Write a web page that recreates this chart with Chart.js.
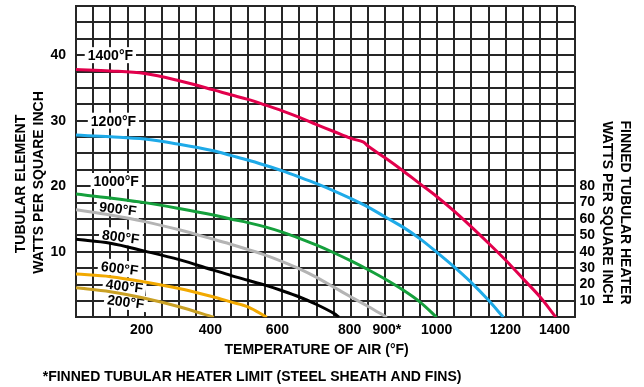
<!DOCTYPE html>
<html><head><meta charset="utf-8">
<script src="https://cdn.jsdelivr.net/npm/chart.js@4/dist/chart.umd.min.js"></script>
<style>html,body{margin:0;padding:0;background:#fff;}#wrap{width:644px;height:387px;position:relative;}</style>
</head><body><div id="wrap"><canvas id="c"></canvas></div>
<script>
// ---- data (air temperature on the grid, °F ; watts per square inch) ----
const seriesNames = ['1400°F','1200°F','1000°F','900°F','800°F','600°F','400°F'];
const t1400 = [0,100,200,300,400,450,500,550,600,650,700,750,800,835,850,900,950,1000,1050,1100,1150,1200,1250,1300,1350,1396];
const w1400 = [37.8,37.6,37.2,36.1,34.7,33.95,33.25,32.4,31.5,30.5,29.4,28.35,27.3,26.75,26.1,24.3,22.4,20.4,18.4,16.2,13.8,11.3,8.7,5.9,3.1,0];
const t1200 = [0,100,200,300,400,450,500,550,600,650,700,750,800,850,900,950,1000,1050,1100,1150,1200,1243];
const w1200 = [27.8,27.55,27.2,26.4,25.4,24.7,24.0,23.2,22.35,21.4,20.4,19.3,18.1,16.8,15.3,13.8,12.0,9.9,7.7,5.3,2.6,0];
const t1000 = [0,100,200,300,400,450,500,550,600,650,700,750,800,850,900,950,1000,1049];
const w1000 = [18.8,18.2,17.5,16.6,15.6,15.0,14.45,13.8,13.0,12.05,11.0,9.85,8.6,7.25,5.8,4.2,2.35,0];
const t900 = [0,100,200,300,400,450,500,550,600,650,700,750,800,850,904];
const w900 = [16.4,15.6,14.6,13.35,11.9,11.15,10.35,9.5,8.5,7.4,6.1,4.6,3.1,1.65,0];
const t800 = [0,100,200,300,400,450,500,550,600,650,700,750,765];
const w800 = [11.9,11.3,10.1,8.8,7.2,6.4,5.65,4.9,4.05,3.1,1.95,0.6,0];
const t600 = [0,100,200,300,400,450,500,555];
const w600 = [6.6,6.2,5.4,4.4,3.1,2.35,1.6,0];
const t400 = [0,100,200,300,401];
const w400 = [4.5,3.9,2.9,1.6,0];
const curveLabels = ['1400°F','1200°F','1000°F','900°F','800°F','600°F','400°F','200°F'];
const xTickLabels = ['200','400','600','800','900*','1000','1200','1400'];
const xTickAt = [191,391,586,796,904,1049,1249,1392];
const yTickLabels = [10,20,30,40];
const y2TickLabels = [10,20,30,40,50,60,70,80];
const xTitle = 'TEMPERATURE OF AIR (°F)';
const yTitle = ['TUBULAR ELEMENT','WATTS PER SQUARE INCH'];
const y2Title = ['FINNED TUBULAR HEATER','WATTS PER SQUARE INCH'];
const footnote = '*FINNED TUBULAR HEATER LIMIT (STEEL SHEATH AND FINS)';

// ---- styling / layout ----
const FONT = '"Liberation Sans", Arial, Helvetica, sans-serif';
const colors = ['#e2004c','#1eaae8','#15a03c','#b4b4b4','#000000','#f2a900','#c9a024'];
const seriesT = [t1400,t1200,t1000,t900,t800,t600,t400];
const seriesW = [w1400,w1200,w1000,w900,w800,w600,w400];
const labelSpots = [
  {t:100,v:40.0,rot:0},{t:109,v:30.0,rot:0},{t:117,v:20.8,rot:0},
  {t:122,v:16.6,rot:7},{t:130,v:12.3,rot:7},{t:127,v:7.5,rot:7},
  {t:141,v:4.8,rot:7},{t:145,v:2.4,rot:7}
];
const GRID = '#262626';

const datasets = seriesNames.map((n,i)=>({
  label:n,
  data: seriesT[i].map((t,j)=>({x:t,y:seriesW[i][j]})),
  borderColor: colors[i], backgroundColor: colors[i],
  borderWidth: 3, pointRadius: 0, fill:false,
  tension:0.35, yAxisID:'y', xAxisID:'x'
}));

const textPlugin = {
  id:'texts',
  beforeDatasetsDraw(chart){
    const {ctx, scales:{x,y}} = chart;
    ctx.save();
    ctx.font = 'bold 14px ' + FONT;
    ctx.textAlign = 'center';
    ctx.textBaseline = 'alphabetic';
    labelSpots.forEach((s,i)=>{
      const px = x.getPixelForValue(s.t), py = y.getPixelForValue(s.v);
      ctx.save();
      ctx.translate(px,py);
      ctx.rotate(s.rot*Math.PI/180);
      const w = ctx.measureText(curveLabels[i]).width;
      ctx.fillStyle = '#fff';
      ctx.fillRect(-w/2-3,-8,w+6,16);
      ctx.fillStyle = '#000';
      ctx.fillText(curveLabels[i],0,5);
      ctx.restore();
    });
    ctx.restore();
  },
  afterDraw(chart){
    const {ctx} = chart;
    ctx.save();
    ctx.font = 'bold 14px ' + FONT;
    ctx.fillStyle = '#000';
    ctx.textAlign = 'center';
    ctx.textBaseline = 'alphabetic';
    const rot = (text,xc,yc,a)=>{
      ctx.save(); ctx.translate(xc,yc); ctx.rotate(a); ctx.fillText(text,0,5); ctx.restore();
    };
    rot(yTitle[0],20,184,-Math.PI/2);
    rot(yTitle[1],38,182.5,-Math.PI/2);
    rot(y2Title[0],626,212.5,Math.PI/2);
    rot(y2Title[1],607.5,212.5,Math.PI/2);
    ctx.fillText(xTitle,316.6,348.7+5);
    ctx.textAlign = 'left';
    ctx.fillText(footnote,42.7,376.3+5);
    ctx.restore();
  }
};

const noPad = s=>{s.paddingTop=0;s.paddingBottom=0;s.paddingLeft=0;s.paddingRight=0;};

new Chart(document.getElementById('c'),{
  type:'line',
  data:{datasets},
  options:{
    responsive:true, maintainAspectRatio:false, animation:false,
    layout:{padding:{top:6,left:0,right:0,bottom:0}},
    plugins:{legend:{display:false},tooltip:{enabled:false}},
    scales:{
      x:{
        type:'linear', position:'bottom', min:0, max:1450,
        afterFit:s=>{s.height=69.7;noPad(s);},
        afterBuildTicks:s=>{
          const tk=[];
          for(let v=0;v<=1450;v+=50) tk.push({value:v});
          xTickAt.forEach(v=>tk.push({value:v}));
          tk.sort((a,b)=>a.value-b.value);
          s.ticks=tk;
        },
        ticks:{
          autoSkip:false, maxRotation:0, padding:4, color:'#000',
          font:{family:FONT,size:14,weight:'bold'},
          callback:function(v){const k=xTickAt.indexOf(v);return k>=0?xTickLabels[k]:'';}
        },
        grid:{
          drawTicks:false, lineWidth:2,
          color:c=>(c.tick && xTickAt.indexOf(c.tick.value)>=0)?'rgba(0,0,0,0)':GRID
        },
        border:{display:true,color:GRID,width:2}
      },
      y:{
        type:'linear', position:'left', min:0, max:47.5,
        afterFit:s=>{s.width=76;noPad(s);},
        ticks:{
          stepSize:2.5, autoSkip:false, padding:10, color:'#000',
          font:{family:FONT,size:14,weight:'bold'},
          callback:v=>yTickLabels.indexOf(Math.round(v*100)/100)>=0?String(v):''
        },
        grid:{drawTicks:false,lineWidth:2,color:GRID},
        border:{display:true,color:GRID,width:2}
      },
      y2:{
        type:'linear', position:'right', min:0, max:190,
        afterFit:s=>{s.width=69.5;noPad(s);},
        ticks:{
          stepSize:10, autoSkip:false, padding:5, color:'#000',
          font:{family:FONT,size:14,weight:'bold'},
          callback:v=>y2TickLabels.indexOf(v)>=0?String(v):''
        },
        grid:{display:false,drawTicks:false},
        border:{display:false}
      }
    }
  },
  plugins:[textPlugin]
});
</script></body></html>
